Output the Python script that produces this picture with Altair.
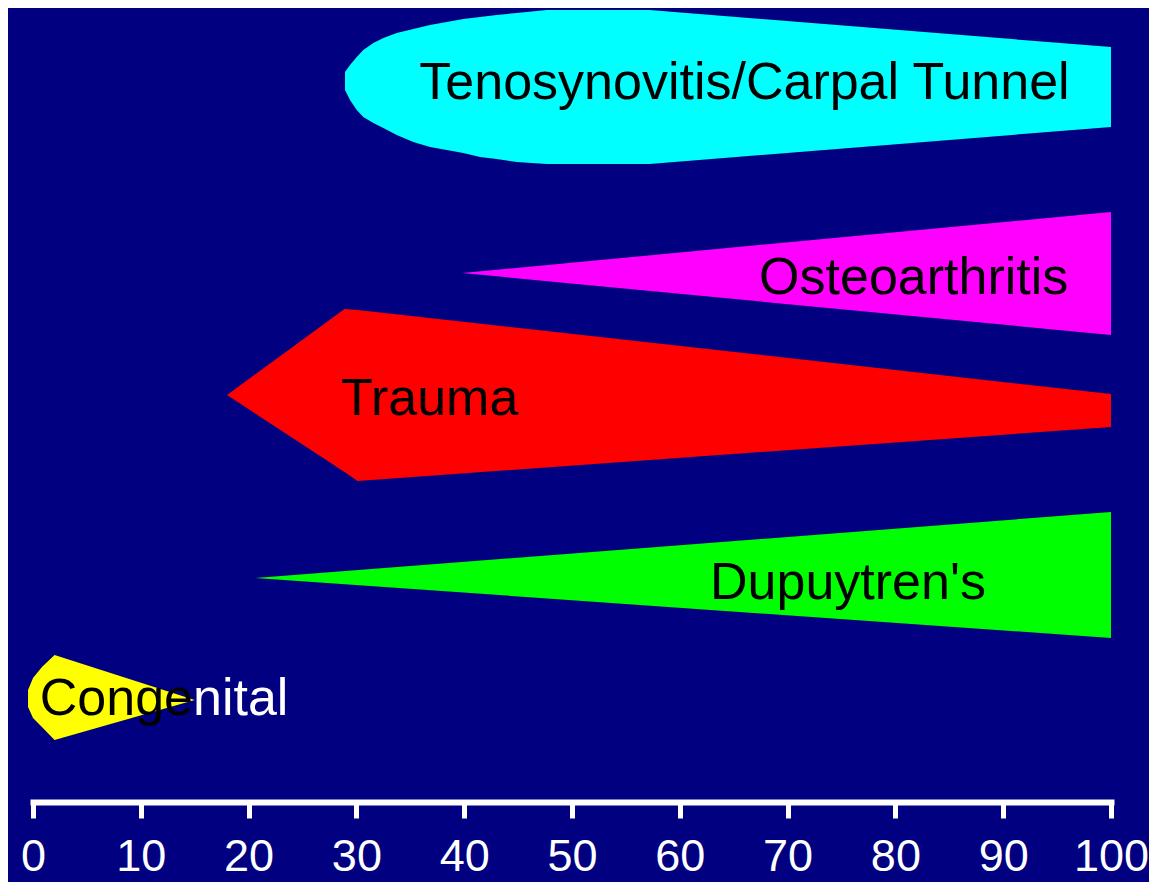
import altair as alt
import pandas as pd

# ---- data (x = age scale 0..100, y = vertical units above the axis) ----
teno_x = [28.94, 29.41, 30.03, 30.64, 31.57, 32.50, 33.74, 35.28, 36.83, 38.38,
          39.92, 41.47, 43.01, 44.87, 47.66, 57.2, 100]
teno_top = [730, 737, 745, 752, 759, 764, 769, 773, 777, 780,
            783, 785, 787, 789, 792, 792, 755]
teno_bottom = [712, 702, 692, 685, 679, 674, 667, 660, 655, 652,
               649, 645, 643, 640, 638, 638, 675]

osteo_x = [39.8, 100]
osteo_top = [529, 590]
osteo_bottom = [529, 467]

trauma_x = [18.0, 28.9, 30.1, 100]
trauma_top = [407, 493, 492, 408]
trauma_bottom = [407, 330, 321, 375]

dupuy_x = [20.6, 100]
dupuy_top = [224, 290]
dupuy_bottom = [224, 164]

cong_x = [-0.46, 0.0, 0.83, 2.0, 15.0]
cong_top = [112, 124, 135, 147, 102]
cong_bottom = [95, 84, 75, 62, 102]

label_text = ["Tenosynovitis/Carpal Tunnel", "Osteoarthritis", "Trauma", "Dupuytren's"]
label_x = [66.0, 81.7, 36.8, 75.6]
label_y = [703, 508, 387, 203]

cong_label_left = "Conge"
cong_label_right = "nital"
cong_label_x = 14.84
cong_label_y = 87

tick_values = [0, 10, 20, 30, 40, 50, 60, 70, 80, 90, 100]

shapes = [
    ("Tenosynovitis/Carpal Tunnel", teno_x, teno_top, teno_bottom, "#00FFFF"),
    ("Osteoarthritis", osteo_x, osteo_top, osteo_bottom, "#FF00FF"),
    ("Trauma", trauma_x, trauma_top, trauma_bottom, "#FF0000"),
    ("Dupuytren's", dupuy_x, dupuy_top, dupuy_bottom, "#00FF00"),
    ("Congenital", cong_x, cong_top, cong_bottom, "#FFFF00"),
]

xscale = alt.Scale(domain=[0, 100], nice=False, zero=False)
yscale = alt.Scale(domain=[0, 794], nice=False, zero=False)
xaxis = alt.Axis(
    values=tick_values, title=None, grid=False,
    domainColor="white", domainWidth=6, domainCap="square",
    tickColor="white", tickWidth=5, tickSize=16,
    labelColor="white", labelFont="Liberation Sans, Arial",
    labelFontSize=45, labelPadding=52, labelBaseline="alphabetic",
    labelFlush=False, labelOverlap=False,
)

layers = []
for name, xs, tops, bots, color in shapes:
    df = pd.DataFrame({"x": xs, "top": tops, "bottom": bots, "shape": name})
    layers.append(
        alt.Chart(df).mark_area(color=color, interpolate="linear", opacity=1).encode(
            x=alt.X("x:Q", scale=xscale, axis=xaxis),
            y=alt.Y("top:Q", scale=yscale, axis=None),
            y2="bottom:Q",
        )
    )

labels_df = pd.DataFrame({"label": label_text, "x": label_x, "y": label_y})
layers.append(
    alt.Chart(labels_df).mark_text(
        font="Liberation Sans, Arial", fontSize=52, color="black",
        align="center", baseline="alphabetic",
    ).encode(
        x=alt.X("x:Q", scale=xscale, axis=xaxis),
        y=alt.Y("y:Q", scale=yscale, axis=None),
        text="label:N",
    )
)

cong_left_df = pd.DataFrame({"label": [cong_label_left], "x": [cong_label_x], "y": [cong_label_y]})
cong_right_df = pd.DataFrame({"label": [cong_label_right], "x": [cong_label_x], "y": [cong_label_y]})
layers.append(
    alt.Chart(cong_left_df).mark_text(
        font="Liberation Sans, Arial", fontSize=52, color="black",
        align="right", baseline="alphabetic",
    ).encode(
        x=alt.X("x:Q", scale=xscale, axis=xaxis),
        y=alt.Y("y:Q", scale=yscale, axis=None),
        text="label:N",
    )
)
layers.append(
    alt.Chart(cong_right_df).mark_text(
        font="Liberation Sans, Arial", fontSize=52, color="white",
        align="left", baseline="alphabetic",
    ).encode(
        x=alt.X("x:Q", scale=xscale, axis=xaxis),
        y=alt.Y("y:Q", scale=yscale, axis=None),
        text="label:N",
    )
)

chart = alt.layer(*layers).properties(
    width=1078, height=794,
    autosize=alt.AutoSizeParams(type="none"),
    padding={"left": 25, "top": 0, "right": 38, "bottom": 80},
    background="#000080",
).configure_view(strokeWidth=0)

chart.save("out.html", embed_options={"renderer": "svg", "actions": False})
